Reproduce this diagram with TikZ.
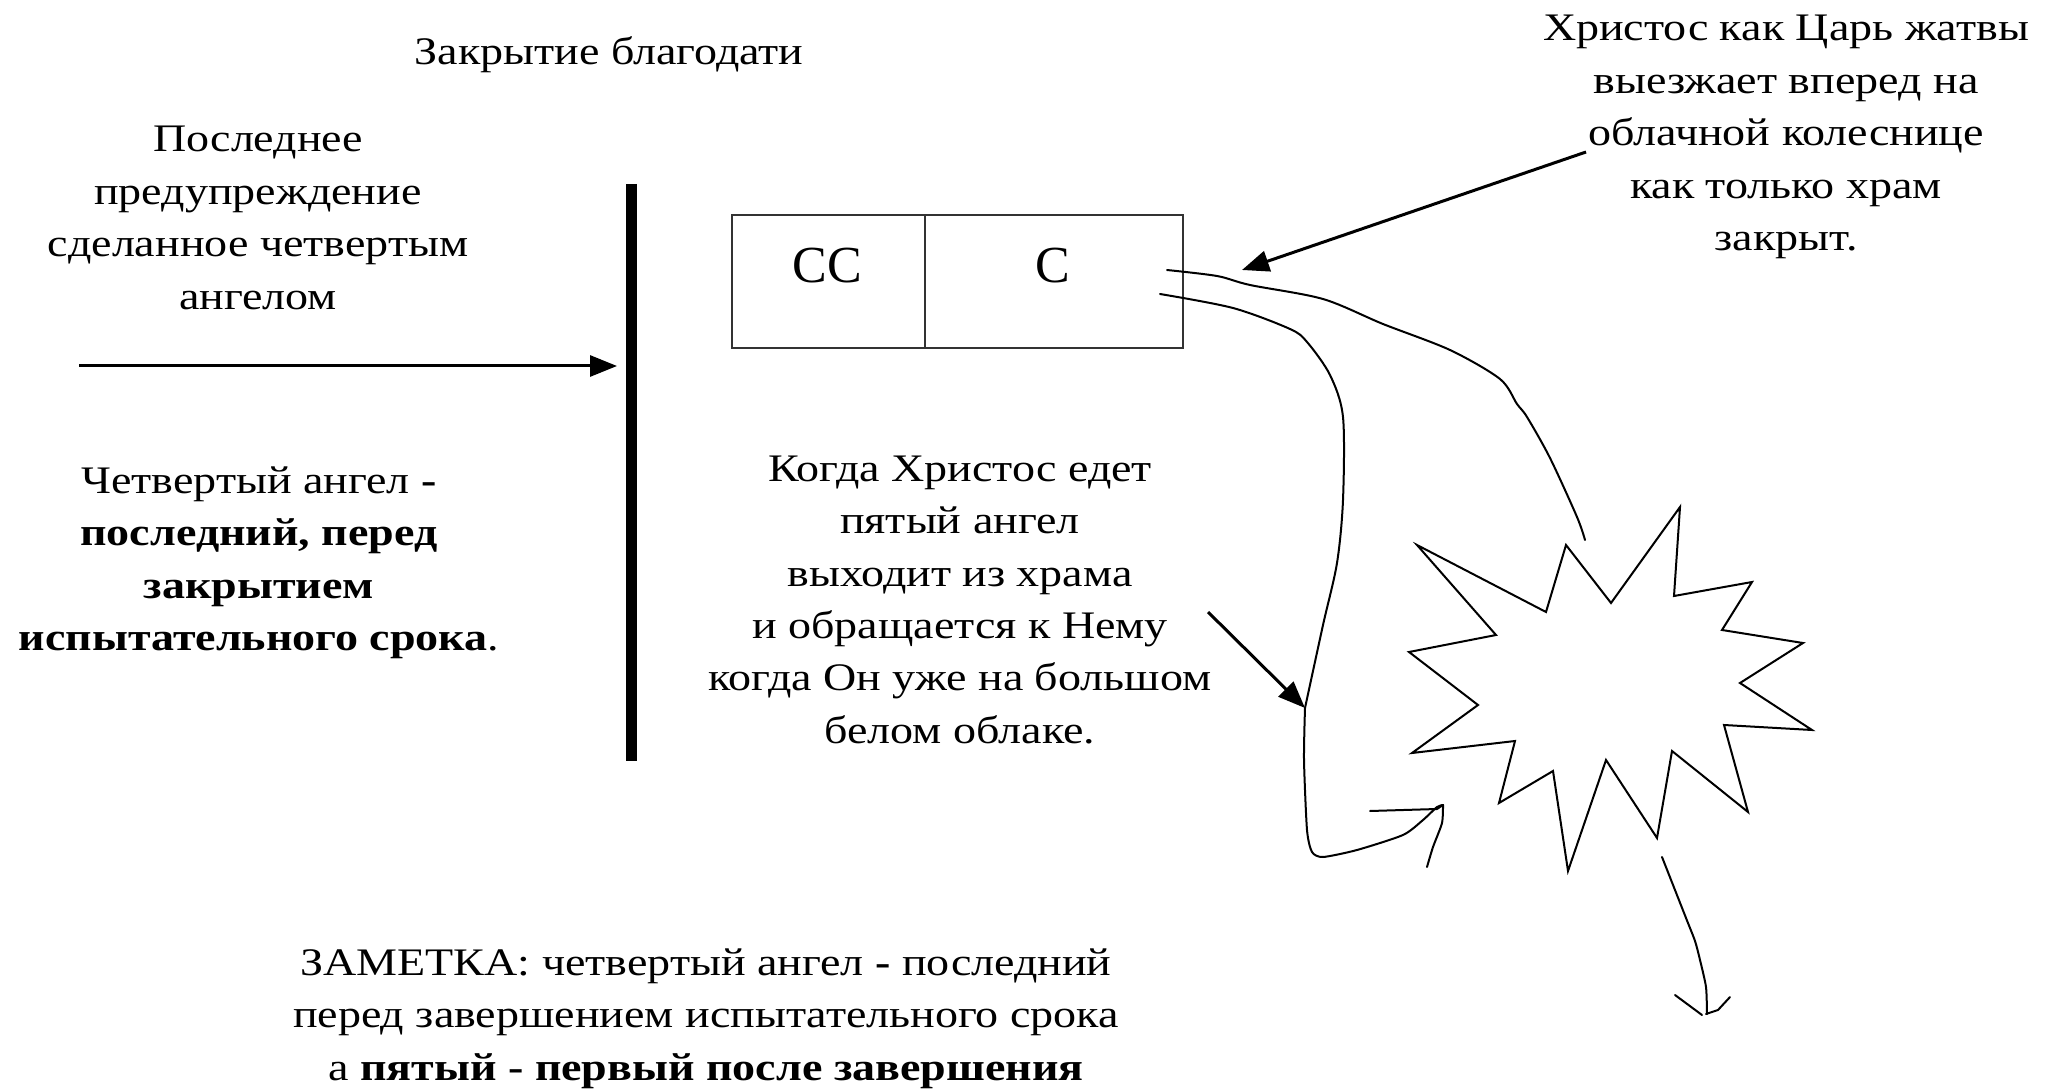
\documentclass[tikz,border=0pt]{standalone}
\usepackage{fontspec}
\setmainfont{Liberation Serif}[FakeStretch=1.18]
\newfontfamily\boxfont{Liberation Serif}
\usetikzlibrary{arrows.meta}
\newcommand{\tlines}[1]{\begin{tabular}[t]{@{}c@{}}#1\end{tabular}}
\begin{document}
\begin{tikzpicture}[x=1pt,y=-1pt,
  txt/.style={font=\fontsize{39}{52.5}\selectfont, inner sep=0pt, anchor=base},
  boxtxt/.style={font=\boxfont\fontsize{52}{60}\selectfont, inner sep=0pt, anchor=base},
  cell/.style={draw=black!80, line width=2.2pt, inner sep=0pt},
  arr/.style={line width=3pt, -{Triangle[length=27pt,width=21pt]}},
  hand/.style={line width=2pt, line join=round, line cap=round},
  bar/.style={line width=11pt},
]
\useasboundingbox (0,0) rectangle (2057,1091);
\fill[white] (0,0) rectangle (2057,1091);

% texts
\node[txt] (title) at (609,65) {Закрытие благодати};
\node[txt] (warn) at (258,152) {\tlines{Последнее\\предупреждение\\сделанное четвертым\\ангелом}};
\node[txt] (fourth) at (259,493) {\tlines{Четвертый ангел \textbf{-}\\\textbf{последний, перед}\\\textbf{закрытием}\\\textbf{испытательного срока}.}};
\node[txt] (king) at (1786,41) {\tlines{Христос как Царь жатвы\\выезжает вперед на\\облачной колеснице\\как только храм\\закрыт.}};
\node[txt] (fifth) at (960,481) {\tlines{Когда Христос едет\\пятый ангел\\выходит из храма\\и обращается к Нему\\когда Он уже на большом\\белом облаке.}};
\node[txt] (note) at (706,975) {\tlines{ЗАМЕТКА: четвертый ангел \textbf{-} последний\\перед завершением испытательного срока\\а \textbf{пятый - первый после завершения}}};

% box
\node[cell, minimum width=193pt, minimum height=133pt] (ss) at (828.5,281.5) {};
\node[cell, minimum width=258pt, minimum height=133pt] (s) at (1054,281.5) {};
\node[boxtxt] (sslbl) at (827,283) {СС};
\node[boxtxt] (slbl) at (1053,283) {С};

% closing bar
\coordinate (bartop) at (631.5,184);
\coordinate (barbot) at (631.5,761);
\draw[bar] (bartop) -- (barbot);

% arrows
\coordinate (la) at (79,366);
\coordinate (lb) at (617,366);
\draw[arr] (la) -- (lb);

\coordinate (ka) at (1586,152);
\coordinate (kb) at (1242,270);
\draw[arr] (ka) -- (kb);

\coordinate (fa) at (1208,612);
\coordinate (fb) at (1305,708);
\draw[arr] (fa) -- (fb);

% hand-drawn upper path
\draw[hand] plot[smooth, tension=0.5] coordinates {(1167,270) (1217,276) (1250,285) (1323,299) (1383,324) (1450,350) (1500,379) (1517,404) (1527,417) (1550,458) (1577,517) (1585,540)};

% hand-drawn lower path with hooked tip
\draw[hand] plot[smooth, tension=0.5] coordinates {(1160,294) (1233,308) (1290,329) (1307,342) (1330,375) (1343,417) (1343,500) (1337,563) (1323,625) (1305,708)};
\draw[hand] plot[smooth, tension=0.4] coordinates {(1305,708) (1304,760) (1307,830) (1312,852) (1323,857) (1357,850) (1403,835) (1423,820) (1437,807) (1443,805)};
\draw[hand] (1370,811) -- (1437,809) -- (1443,805);
\draw[hand] plot[smooth, tension=0.4] coordinates {(1443,805) (1442,823) (1433,847) (1427,867)};

% star
\draw[hand, line join=miter] (1417,545) -- (1546,612) -- (1566,545) -- (1611,603) -- (1680,507) -- (1674,596) -- (1752,582) -- (1722,630) -- (1803,643) -- (1740,683) -- (1812,730) -- (1724,725) -- (1748,812) -- (1672,751) -- (1657,838) -- (1606,760) -- (1568,871) -- (1553,771) -- (1499,803) -- (1515,741) -- (1412,753) -- (1478,705) -- (1409,652) -- (1496,635) -- cycle;

% bottom hand-drawn arrow
\draw[hand] plot[smooth, tension=0.4] coordinates {(1662,857) (1686,918) (1695,941) (1700,960) (1706,987) (1707,1014)};
\draw[hand] (1675,995) -- (1702,1015);
\draw[hand] (1730,997) -- (1718,1010) -- (1706,1014);
\end{tikzpicture}
\end{document}
